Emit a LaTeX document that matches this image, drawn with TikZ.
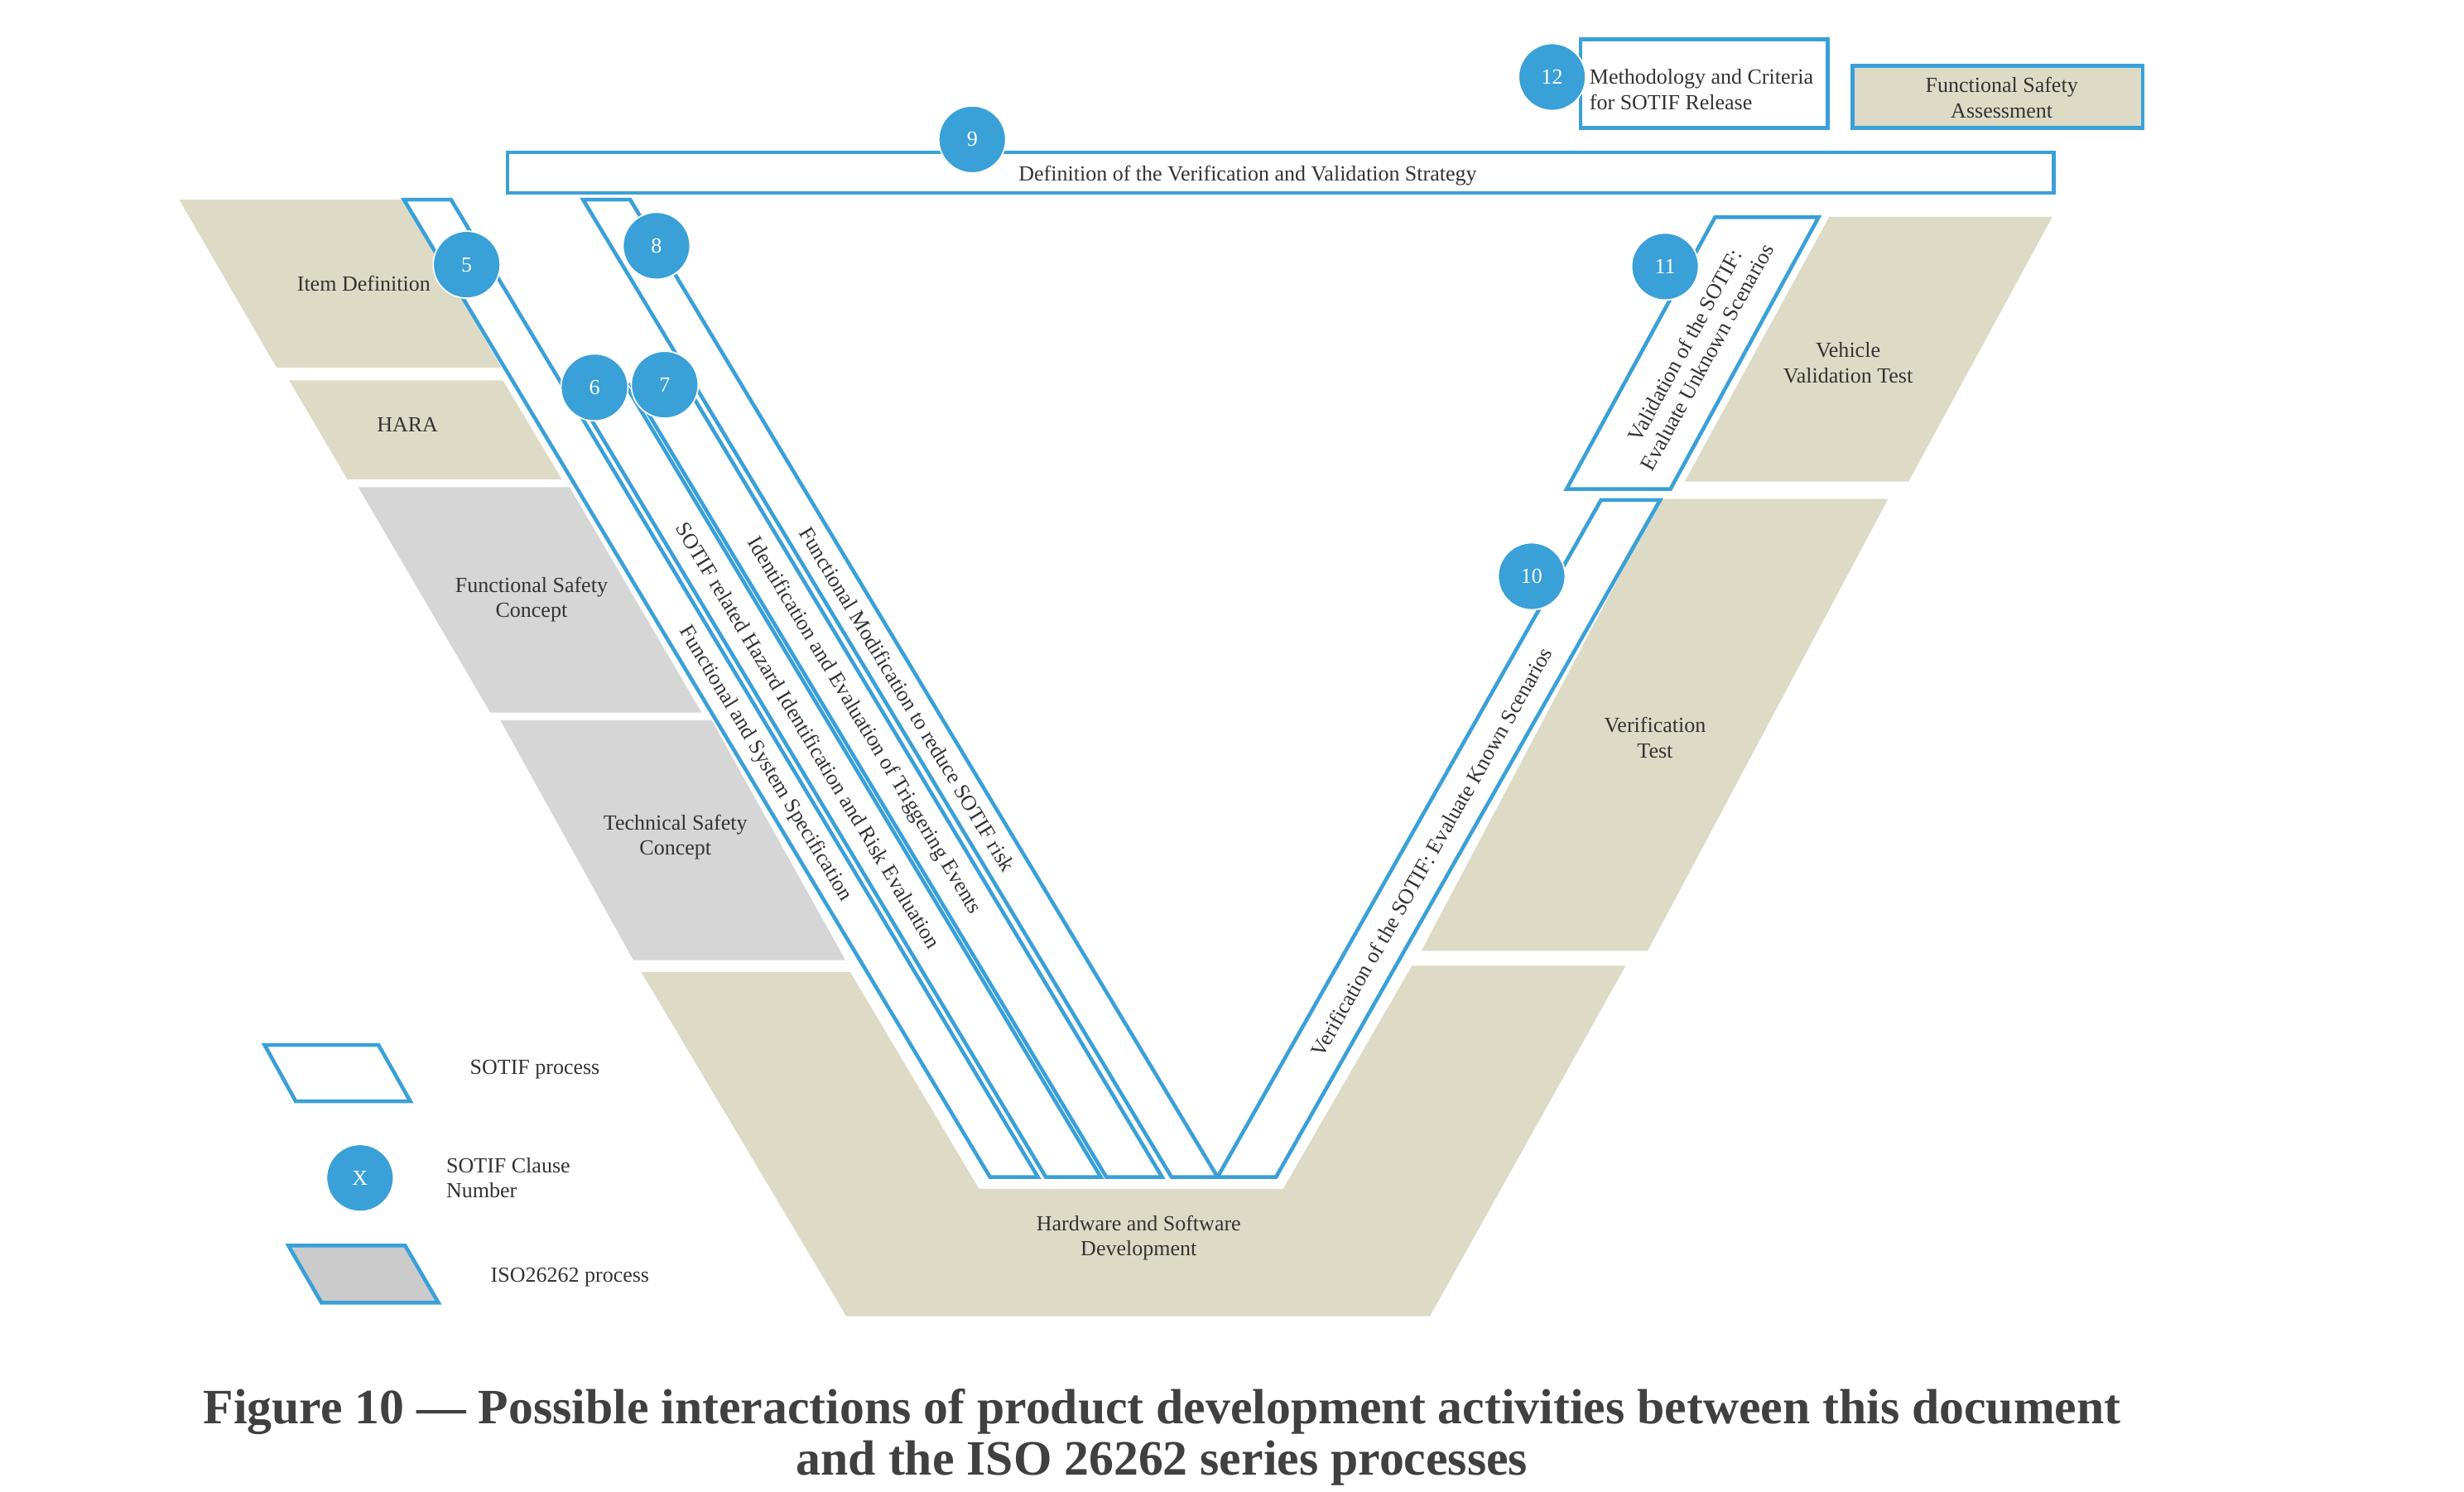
\documentclass[tikz,border=0pt]{standalone}
\usepackage{fontspec}
\setmainfont{Liberation Serif}
\definecolor{sotifblue}{RGB}{58,160,216}
\definecolor{isotan}{RGB}{221,219,198}
\definecolor{isogray}{RGB}{214,214,214}
\definecolor{legendgray}{RGB}{203,203,203}
\definecolor{txtgray}{RGB}{51,51,51}
\definecolor{capgray}{RGB}{64,64,64}

\begin{document}
\begin{tikzpicture}[x=0.01898cm,y=-0.01898cm,
  tanbox/.style={fill=isotan},
  graybox/.style={fill=isogray},
  sotifband/.style={draw=sotifblue,fill=white,line width=1.3pt},
  clause/.style={circle,fill=sotifblue,draw=white,line width=0.5pt,minimum size=0.81cm,inner sep=0pt,text=white,font=\fontsize{7.4}{8.6}\selectfont},
  lbl/.style={text=txtgray,font=\fontsize{7.4}{8.6}\selectfont,align=center,inner sep=0pt}]
\useasboundingbox (0,0) rectangle (1568,949);

% ISO 26262 process steps
\fill[tanbox] (114,127) -- (257,127) -- (319,234) -- (176,234) -- cycle;
\fill[tanbox] (184,242) -- (320,242) -- (357.5,305) -- (221,305) -- cycle;
\fill[graybox] (228,310) -- (362.5,310) -- (446.5,453.5) -- (312,453.5) -- cycle;
\fill[graybox] (318.5,458.5) -- (453,458.5) -- (538,611) -- (403,611) -- cycle;
\fill[tanbox] (408,618.5) -- (541,618.5) -- (623,756.5) -- (816.5,756.5) -- (898.5,614.5) -- (1034.5,614.5) -- (910,837.5) -- (538.5,837.5) -- cycle;
\fill[tanbox] (1056.5,317.5) -- (1201.5,317.5) -- (1048.5,605) -- (904.5,605) -- cycle;
\fill[tanbox] (1164,138) -- (1306,138) -- (1214.5,306.5) -- (1072,306.5) -- cycle;

% SOTIF bands
\draw[sotifband] (257,127) -- (287,127) -- (660.5,749) -- (630,749) -- cycle;
\draw[sotifband] (363.7,246) -- (398.7,246) -- (700.5,749) -- (665.5,749) -- cycle;
\draw[sotifband] (401.6,245) -- (436.6,245) -- (739.5,749) -- (704,749) -- cycle;
\draw[sotifband] (371,127) -- (401,127) -- (774.8,749) -- (745.5,749) -- cycle;
\draw[sotifband] (1018.8,318.2) -- (1056.4,318.2) -- (812,749) -- (774.8,749) -- cycle;
\draw[sotifband] (1091.4,138.2) -- (1157.3,138.2) -- (1063,311.2) -- (996.9,311.2) -- cycle;
\draw[sotifband] (323,97) rectangle (1307,122.8);
\draw[sotifband] (1005.8,24.9) rectangle (1163,81.3);
\draw[sotifband,fill=isotan] (1179,42) rectangle (1363.6,81.3);

% legend shapes
\draw[sotifband] (168.4,665) -- (240.9,665) -- (261.1,700.8) -- (188.2,700.8) -- cycle;
\draw[sotifband,fill=legendgray] (183.5,792.6) -- (257.8,792.6) -- (279,829) -- (204.6,829) -- cycle;

% labels of the process steps
\node[lbl] (itemdef) at (231.5,180.6) {Item Definition};
\node[lbl] (hara) at (259.3,270) {HARA};
\node[lbl] (fsc) at (338.2,381.7) {Functional Safety\\Concept};
\node[lbl] (tsc) at (429.8,532.7) {Technical Safety\\Concept};
\node[lbl] (hsd) at (724.6,787.7) {Hardware and Software\\Development};
\node[lbl] (vt) at (1053.2,469.4) {Verification\\Test};
\node[lbl] (vvt) at (1176,230.8) {Vehicle\\Validation Test};
\node[lbl] (fsa) at (1273.8,62.1) {Functional Safety\\Assessment};
\node[lbl,anchor=west,align=left] (release) at (1011.2,56.9) {Methodology and Criteria\\for SOTIF Release};
\node[lbl] (vvstrat) at (794,112) {Definition of the Verification and Validation Strategy};

% labels along the bands
\node[lbl,rotate=-59] (fss) at (487,486) {Functional and System Specification};
\node[lbl,rotate=-59] (hazard) at (514.5,468) {SOTIF related Hazard Identification and Risk Evaluation};
\node[lbl,rotate=-59] (trigger) at (549.5,462) {Identification and Evaluation of Triggering Events};
\node[lbl,rotate=-59] (modif) at (577.5,445) {Functional Modification to reduce SOTIF risk};
\node[lbl,rotate=60.4] (known) at (911,542) {Verification of the SOTIF: Evaluate Known Scenarios};
\node[lbl,rotate=61.4] (unknown) at (1079.2,223.5) {Validation of the SOTIF:\\Evaluate Unknown Scenarios};

% clause numbers
\node[clause] (c5) at (297,168.4) {5};
\node[clause] (c6) at (378.3,246.5) {6};
\node[clause] (c7) at (423,244.8) {7};
\node[clause] (c8) at (417.8,156.4) {8};
\node[clause] (c9) at (618.7,88.7) {9};
\node[clause] (c10) at (974.7,366.7) {10};
\node[clause] (c11) at (1059.6,169.6) {11};
\node[clause] (c12) at (987.7,49) {12};

% legend
\node[clause] (cx) at (229.1,749.6) {X};
\node[lbl,anchor=west] (legsotif) at (298.7,680.5) {SOTIF process};
\node[lbl,anchor=west,align=left] (legclause) at (283.7,749.4) {SOTIF Clause\\Number};
\node[lbl,anchor=west] (legiso) at (311.9,812.8) {ISO26262 process};

\node[text=capgray,font=\fontsize{17}{17.5}\selectfont\bfseries,align=center,inner sep=0pt] (caption) at (739.5,914.5)
  {Figure 10 — Possible interactions of product development activities between this document\\and the ISO 26262 series processes};
\end{tikzpicture}
\end{document}
